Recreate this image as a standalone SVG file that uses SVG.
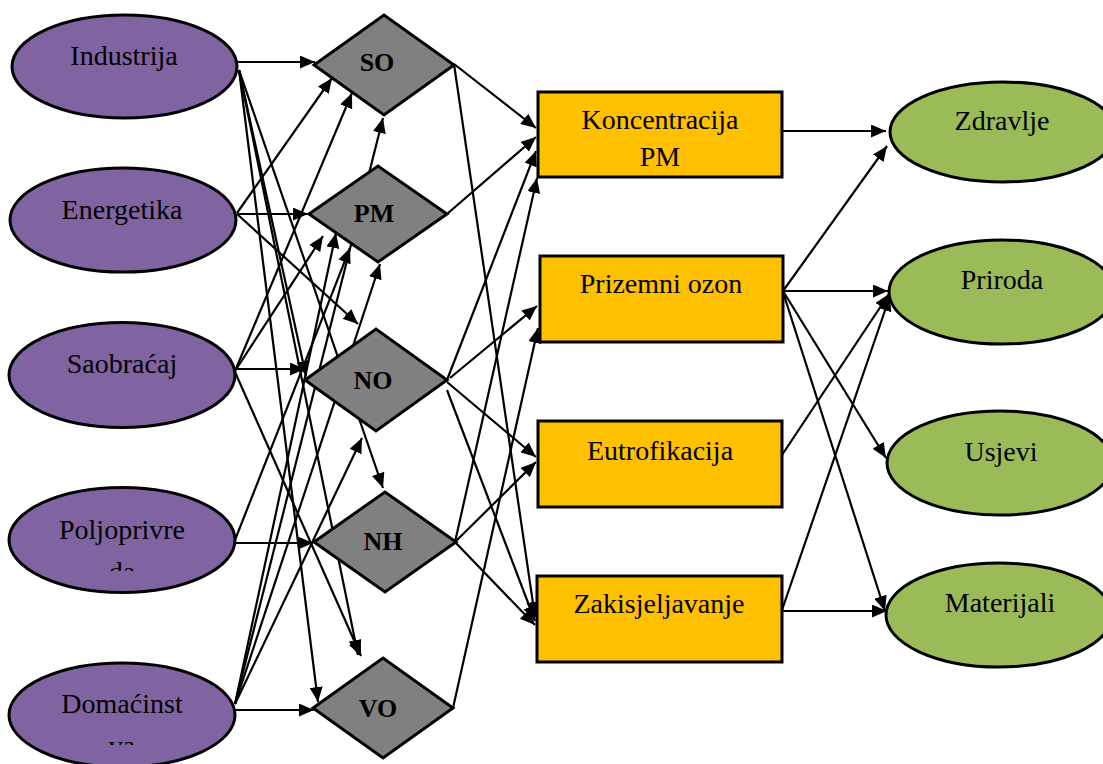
<svg xmlns="http://www.w3.org/2000/svg" width="1103" height="764" viewBox="0 0 1103 764">
<defs>
<marker id="ah" markerUnits="userSpaceOnUse" markerWidth="16" markerHeight="13" refX="15" refY="6.5" orient="auto"><path d="M0,0 L15,6.5 L0,13 z" fill="#000"/></marker>
<clipPath id="c1"><rect x="0" y="480" width="240" height="91"/></clipPath>
<clipPath id="c2"><rect x="0" y="650" width="240" height="95"/></clipPath>
</defs>
<style>
.src{fill:#8064A2;stroke:#000;stroke-width:3}
.eff{fill:#9BBB59;stroke:#000;stroke-width:3}
.dia{fill:#808080;stroke:#000;stroke-width:3;stroke-linejoin:miter}
.box{fill:#FFC000;stroke:#000;stroke-width:3}
.t{font-family:"Liberation Serif",serif;font-size:28px;fill:#000;text-anchor:middle}
.b{font-family:"Liberation Serif",serif;font-size:26px;font-weight:bold;fill:#000;text-anchor:middle}
#connectors line{stroke:#000;stroke-width:2.2;marker-end:url(#ah)}
</style>
<rect width="1103" height="764" fill="#fff"/>
<g id="connectors">
<line x1="237" y1="62" x2="315" y2="62"/>
<line x1="239" y1="70" x2="306" y2="376"/>
<line x1="239" y1="70" x2="383" y2="488"/>
<line x1="239" y1="70" x2="318" y2="702"/>
<line x1="239" y1="70" x2="358" y2="655"/>
<line x1="237" y1="213" x2="332" y2="78"/>
<line x1="237" y1="214" x2="308" y2="214"/>
<line x1="237" y1="214" x2="358" y2="324"/>
<line x1="235" y1="369" x2="305" y2="369"/>
<line x1="235" y1="371" x2="352" y2="93"/>
<line x1="235" y1="371" x2="323" y2="236"/>
<line x1="235" y1="372" x2="361" y2="656"/>
<line x1="235" y1="543" x2="313" y2="543"/>
<line x1="235" y1="540" x2="350" y2="248"/>
<line x1="235" y1="710" x2="314" y2="710"/>
<line x1="235" y1="704" x2="362" y2="438"/>
<line x1="235" y1="704" x2="380" y2="264"/>
<line x1="235" y1="704" x2="336" y2="233"/>
<line x1="235" y1="704" x2="383" y2="118"/>
<line x1="454" y1="64" x2="536" y2="128"/>
<line x1="454" y1="64" x2="535" y2="617"/>
<line x1="447" y1="214" x2="536" y2="137"/>
<line x1="447" y1="380" x2="536" y2="151"/>
<line x1="450" y1="378" x2="537" y2="306"/>
<line x1="447" y1="382" x2="536" y2="457"/>
<line x1="447" y1="390" x2="535" y2="621"/>
<line x1="455" y1="542" x2="537" y2="178"/>
<line x1="455" y1="542" x2="536" y2="462"/>
<line x1="455" y1="542" x2="535" y2="625"/>
<line x1="453" y1="708" x2="538" y2="328"/>
<line x1="782" y1="131" x2="886" y2="131"/>
<line x1="783" y1="291" x2="887" y2="146"/>
<line x1="783" y1="291" x2="888" y2="291"/>
<line x1="783" y1="291" x2="886" y2="458"/>
<line x1="783" y1="292" x2="885" y2="611"/>
<line x1="782" y1="455" x2="889" y2="294"/>
<line x1="782" y1="610" x2="890" y2="296"/>
<line x1="782" y1="611" x2="887" y2="611"/>
</g>
<g id="n-industrija"><ellipse class="src" cx="124.5" cy="66.5" rx="112.5" ry="51.5"/><text class="t" x="124" y="65">Industrija</text></g>
<g id="n-energetika"><ellipse class="src" cx="123" cy="220" rx="113" ry="52"/><text class="t" x="122" y="219">Energetika</text></g>
<g id="n-saobracaj"><ellipse class="src" cx="122" cy="375" rx="113" ry="52.5"/><text class="t" x="122" y="373">Saobraćaj</text></g>
<g id="n-poljoprivreda"><ellipse class="src" cx="122" cy="540" rx="113" ry="52.5"/><text class="t" x="122" y="539">Poljoprivre</text><text class="t" x="122" y="581" clip-path="url(#c1)">da</text></g>
<g id="n-domacinstva"><ellipse class="src" cx="122" cy="715" rx="113" ry="52"/><text class="t" x="122" y="713">Domaćinst</text><text class="t" x="122" y="755" clip-path="url(#c2)">va</text></g>
<g id="n-so"><polygon class="dia" points="314,65 384,15 454,65 384,115"/><text class="b" x="377" y="71">SO</text></g>
<g id="n-pm"><polygon class="dia" points="309,214 378,166 447,214 378,262"/><text class="b" x="374" y="222">PM</text></g>
<g id="n-no"><polygon class="dia" points="305,380 376,329 447,380 376,431"/><text class="b" x="373" y="389">NO</text></g>
<g id="n-nh"><polygon class="dia" points="314,542 385,492 456,542 385,592"/><text class="b" x="383" y="550">NH</text></g>
<g id="n-vo"><polygon class="dia" points="313,708 383,658 453,708 383,758"/><text class="b" x="378" y="717">VO</text></g>
<g id="n-koncentracija"><rect class="box" x="538" y="92" width="244" height="85"/><text class="t" x="660" y="129">Koncentracija</text><text class="t" x="660" y="166">PM</text></g>
<g id="n-prizemni"><rect class="box" x="540" y="256" width="243" height="86"/><text class="t" x="661" y="293">Prizemni ozon</text></g>
<g id="n-eutrofikacija"><rect class="box" x="538" y="421" width="244" height="86"/><text class="t" x="660" y="460">Eutrofikacija</text></g>
<g id="n-zakisljeljavanje"><rect class="box" x="537" y="576" width="245" height="86"/><text class="t" x="659" y="613">Zakisjeljavanje</text></g>
<g id="n-zdravlje"><ellipse class="eff" cx="1003" cy="132" rx="113" ry="50"/><text class="t" x="1002" y="130">Zdravlje</text></g>
<g id="n-priroda"><ellipse class="eff" cx="1002" cy="292" rx="113" ry="52"/><text class="t" x="1002" y="289">Priroda</text></g>
<g id="n-usjevi"><ellipse class="eff" cx="1000" cy="463" rx="113" ry="52"/><text class="t" x="1001" y="461">Usjevi</text></g>
<g id="n-materijali"><ellipse class="eff" cx="999" cy="615" rx="113" ry="52"/><text class="t" x="1000" y="612">Materijali</text></g>
</svg>
